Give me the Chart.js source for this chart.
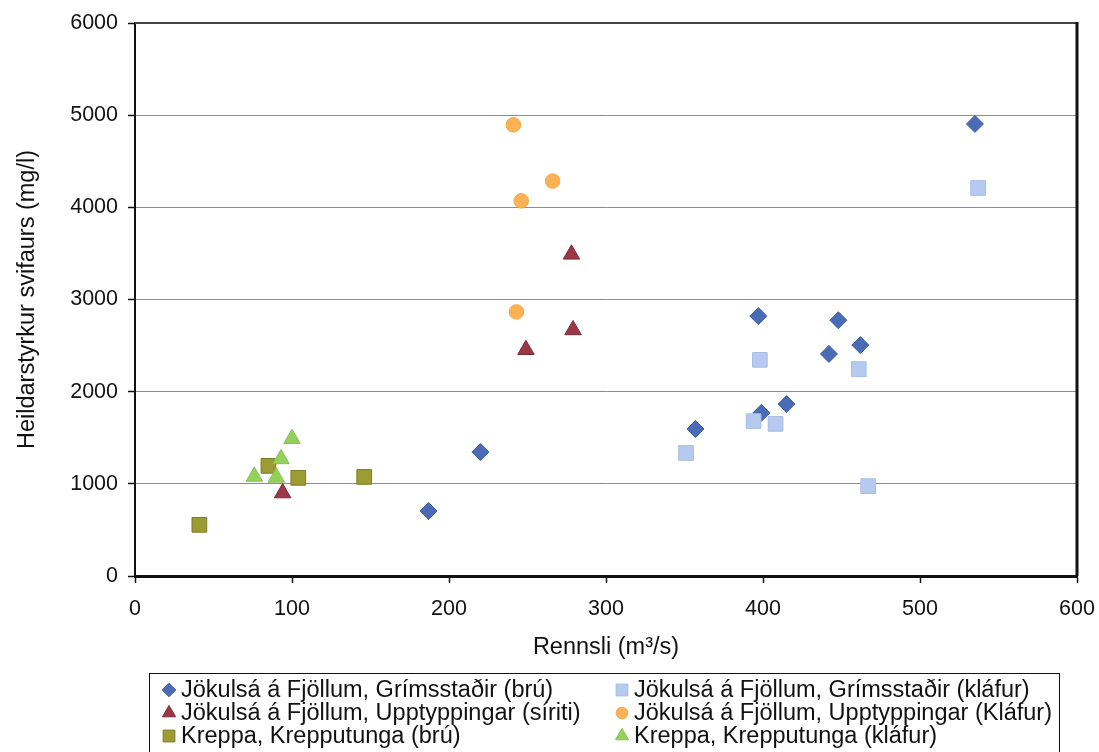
<!DOCTYPE html>
<html>
<head>
<meta charset="utf-8">
<script src="https://cdn.jsdelivr.net/npm/chart.js@4/dist/chart.umd.min.js"></script>
<style>
  html, body { margin: 0; padding: 0; background: #fff; overflow: hidden; }
  #wrap { position: relative; width: 1099px; height: 752px; }
  #legend {
    position: absolute; left: 149px; top: 673px; width: 911px; height: 100px;
    border: 1px solid #111; box-sizing: border-box;
    font: 23.5px "Liberation Sans", Arial, sans-serif; color: #111;
  }
  .item { position: absolute; white-space: nowrap; line-height: 23px; }
  .item canvas { position: absolute; left: -22px; top: 2px; }
</style>
</head>
<body>
<div id="wrap">
  <canvas id="chart" width="1099" height="752"></canvas>
  <div id="legend"></div>
</div>
<script>
// Rennsli (m3/s) and heildarstyrkur svifaurs (mg/l) per station
const grimsBruQ = [187, 220, 357, 399, 415, 397, 442, 448, 462, 535];
const grimsBruC = [705, 1345, 1595, 1770, 1865, 2820, 2410, 2775, 2505, 4905];

const grimsKlafurQ = [351, 394, 398, 408, 461, 467, 537];
const grimsKlafurC = [1335, 1680, 2345, 1650, 2245, 975, 4210];

const uppSiritiQ = [94, 249, 278, 279];
const uppSiritiC = [900, 2455, 3490, 2670];

const uppKlafurQ = [241, 246, 266, 243];
const uppKlafurC = [4895, 4070, 4285, 2865];

const krepBruQ = [41, 85, 104, 146];
const krepBruC = [555, 1195, 1065, 1075];

const krepKlafurQ = [76, 90, 93, 100];
const krepKlafurC = [1080, 1070, 1270, 1490];

const seriesLabels = [
  "Jökulsá á Fjöllum, Grímsstaðir (brú)",
  "Jökulsá á Fjöllum, Grímsstaðir (kláfur)",
  "Jökulsá á Fjöllum, Upptyppingar (síriti)",
  "Jökulsá á Fjöllum, Upptyppingar (Kláfur)",
  "Kreppa, Krepputunga (brú)",
  "Kreppa, Krepputunga (kláfur)",
];

const xTicks = [0, 100, 200, 300, 400, 500, 600];
const yTicks = [0, 1000, 2000, 3000, 4000, 5000, 6000];

const FONT = '"Liberation Sans", Arial, sans-serif';

const styles = [
  { pointStyle: "rectRot", radius: 8.5, fill: "#4a6bb6", border: "#3f5ea3" },
  { pointStyle: "rect", radius: 10.4, fill: "#b5caee", border: "#a9bfe6" },
  { pointStyle: "triangle", radius: 9.5, fill: "#9a3848", border: "#7d2a38" },
  { pointStyle: "circle", radius: 7.3, fill: "#fbb255", border: "#f5a845" },
  { pointStyle: "rect", radius: 10.4, fill: "#9d9c32", border: "#7d7c22" },
  { pointStyle: "triangle", radius: 9.5, fill: "#93d05c", border: "#84c24e" },
];

const pairs = [
  [grimsBruQ, grimsBruC],
  [grimsKlafurQ, grimsKlafurC],
  [uppSiritiQ, uppSiritiC],
  [uppKlafurQ, uppKlafurC],
  [krepBruQ, krepBruC],
  [krepKlafurQ, krepKlafurC],
];

const datasets = pairs.map(([q, c], i) => ({
  label: seriesLabels[i],
  data: q.map((v, k) => ({ x: v, y: c[k] })),
  pointStyle: styles[i].pointStyle,
  pointRadius: styles[i].radius,
  pointBackgroundColor: styles[i].fill,
  pointBorderColor: styles[i].border,
  pointBorderWidth: 1,
  showLine: false,
  order: pairs.length - i,
}));

// top and right edges of the plot frame
const frame = {
  id: "frame",
  beforeDatasetsDraw(chart) {
    const { ctx, chartArea: a } = chart;
    ctx.save();
    ctx.strokeStyle = "#444";
    ctx.lineWidth = 2;
    ctx.beginPath();
    ctx.moveTo(a.left, a.top);
    ctx.lineTo(a.right, a.top);
    ctx.stroke();
    ctx.strokeStyle = "#111";
    ctx.lineWidth = 3;
    ctx.beginPath();
    ctx.moveTo(a.right, a.top - 1);
    ctx.lineTo(a.right, a.bottom);
    ctx.stroke();
    ctx.restore();
  },
};

const plainNumber = (v) => String(v);

new Chart(document.getElementById("chart"), {
  type: "scatter",
  data: { datasets },
  options: {
    responsive: false,
    animation: false,
    layout: { padding: { left: 0, right: 22, top: 23, bottom: 76 } },
    plugins: { legend: { display: false }, tooltip: { enabled: false } },
    scales: {
      x: {
        type: "linear",
        min: 0,
        max: 600,
        afterBuildTicks: (s) => { s.ticks = xTicks.map((v) => ({ value: v })); },
        afterFit: (s) => { s.height = 100; s.paddingLeft = 0; s.paddingRight = 0; },
        ticks: { color: "#111", font: { family: FONT, size: 21.5 }, padding: 13, callback: plainNumber },
        grid: { drawOnChartArea: false, tickLength: 7, tickColor: "#111", tickWidth: 1.5 },
        border: { color: "#111", width: 3 },
        title: {
          display: true,
          text: "Rennsli (m³/s)",
          color: "#111",
          font: { family: FONT, size: 23.5 },
          padding: { top: 0, bottom: 14 },
        },
      },
      y: {
        type: "linear",
        min: 0,
        max: 6000,
        afterBuildTicks: (s) => { s.ticks = yTicks.map((v) => ({ value: v })); },
        afterFit: (s) => { s.width = 135; s.paddingTop = 0; s.paddingBottom = 0; },
        ticks: { color: "#111", font: { family: FONT, size: 21.5 }, padding: 10, callback: plainNumber },
        grid: { color: "#8c8c8c", lineWidth: 1, tickLength: 7, tickColor: "#111", tickWidth: 1.5 },
        border: { color: "#111", width: 2 },
        title: {
          display: true,
          text: "Heildarstyrkur svifaurs (mg/l)",
          color: "#111",
          font: { family: FONT, size: 23.5 },
          padding: { top: 13, bottom: 0 },
        },
      },
    },
  },
  plugins: [frame],
});

// two-column legend below the plot, markers drawn with the library's point shapes
const legend = document.getElementById("legend");
const colX = [31, 484];
seriesLabels.forEach((text, i) => {
  const item = document.createElement("div");
  item.className = "item";
  item.style.left = colX[i % 2] + "px";
  item.style.top = 4 + Math.floor(i / 2) * 23 + "px";
  const mark = document.createElement("canvas");
  mark.width = 20;
  mark.height = 20;
  const ctx = mark.getContext("2d");
  ctx.fillStyle = styles[i].fill;
  ctx.strokeStyle = styles[i].border;
  Chart.helpers.drawPoint(ctx, {
    pointStyle: styles[i].pointStyle,
    radius: styles[i].radius * 0.8,
    borderWidth: 1,
    rotation: 0,
  }, 10, 10);
  item.appendChild(mark);
  item.appendChild(document.createTextNode(text));
  legend.appendChild(item);
});
</script>
</body>
</html>
